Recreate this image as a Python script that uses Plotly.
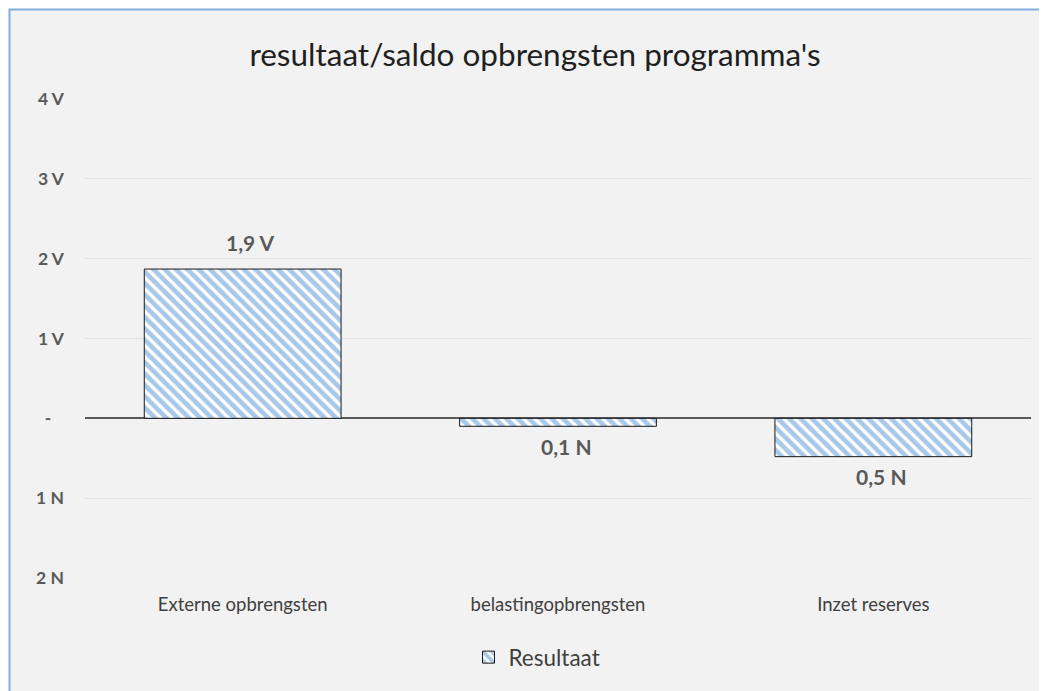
import plotly.graph_objects as go

categories = ["Externe opbrengsten", "belastingopbrengsten", "Inzet reserves"]
values = [1.87, -0.10, -0.48]
value_labels = ["1,9 V", "0,1 N", "0,5 N"]
tick_values = [4, 3, 2, 1, 0, -1, -2]
tick_labels = ["4 V", "3 V", "2 V", "1 V", "-\u00a0\u00a0\u00a0", "1 N", "2 N"]
series_name = "Resultaat"
title_text = "resultaat/saldo opbrengsten programma's"

FONT = "Lato"
OFF = 8  # browser body margin
W, H = 1047 - OFF, 691 - OFF
ML = 85 - OFF
MT = 99 - OFF
plot_right = 1031 - OFF
plot_bottom = 581 - OFF
MR = W - plot_right
MB = H - plot_bottom
plot_w = W - ML - MR
plot_h = H - MT - MB

def px_to_paper_x(px):
    return (px - OFF - ML) / plot_w

def px_to_paper_y(py):
    return (plot_bottom - (py - OFF)) / plot_h

fig = go.Figure()
fig.add_trace(go.Bar(
    x=categories,
    y=values,
    name=series_name,
    marker=dict(
        color="white",
        line=dict(color="#1a1a1a", width=1),
        pattern=dict(shape="\\", fgcolor="#5192d4", bgcolor="white", size=8, solidity=0.58),
    ),
    showlegend=True,
))

annotations = []
for c, v, t in zip(categories, values, value_labels):
    annotations.append(dict(
        x=c, y=v, xref="x", yref="y", text="<b>" + t + "</b>", showarrow=False,
        xshift=8, yshift=27 if v > 0 else -20,
        font=dict(family=FONT, size=21, color="#595959"),
    ))

fig.update_layout(
    width=W, height=H,
    margin=dict(l=ML, r=MR, t=MT, b=MB),
    paper_bgcolor="white",
    plot_bgcolor="rgba(0,0,0,0)",
    title=dict(text=title_text, x=(535 - OFF) / W, xanchor="center", y=1 - (55 - OFF) / H, yanchor="middle",
               yref="container", font=dict(family=FONT, size=31.5, color="#1f1f1f")),
    bargap=0.376,
    xaxis=dict(showgrid=False, zeroline=False, showline=False, ticks="",
               tickfont=dict(family=FONT, size=18.5, color="#404040"), ticklabelstandoff=13),
    yaxis=dict(range=[-2, 4], tickvals=tick_values, ticktext=["<b>" + t + "</b>" for t in tick_labels],
               showgrid=True, gridcolor="#e2e2e2", gridwidth=1,
               zeroline=True, zerolinecolor="#595959", zerolinewidth=2,
               showline=False, ticks="",
               tickfont=dict(family=FONT, size=17.5, color="#595959"), ticklabelstandoff=20),
    legend=dict(orientation="h", x=px_to_paper_x(537), xanchor="center", y=px_to_paper_y(661), yanchor="middle",
                font=dict(family=FONT, size=22.5, color="#404040"), bgcolor="rgba(0,0,0,0)",
                itemwidth=30),
    annotations=annotations,
    shapes=[dict(type="rect", xref="paper", yref="paper", layer="below",
                 x0=px_to_paper_x(9.5), x1=px_to_paper_x(1080),
                 y0=px_to_paper_y(720), y1=px_to_paper_y(9),
                 fillcolor="#f2f2f2", line=dict(color="#7fb0e0", width=2))],
    font=dict(family=FONT),
)

fig.write_html("out.html")
